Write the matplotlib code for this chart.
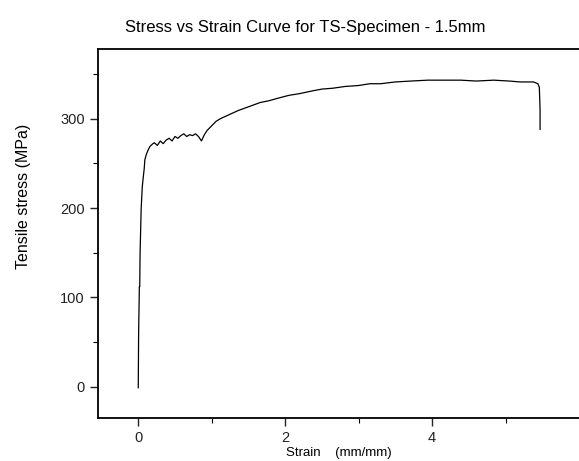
import matplotlib
matplotlib.use("Agg")
import matplotlib.pyplot as plt
from matplotlib.ticker import FixedLocator, MultipleLocator

# ---- data ----
strain = [0.000, 0.005, 0.015, 0.020, 0.025, 0.040, 0.055, 0.070, 0.080, 0.090,
          0.110, 0.135, 0.160, 0.200, 0.220, 0.260, 0.300, 0.340, 0.380, 0.420,
          0.460, 0.500, 0.540, 0.580, 0.620, 0.660, 0.700, 0.740, 0.780, 0.820,
          0.860, 0.900, 0.940, 1.000, 1.060, 1.120, 1.200, 1.280, 1.360, 1.460,
          1.560, 1.660, 1.780, 1.910, 2.050, 2.200, 2.370, 2.500, 2.650, 2.820,
          3.000, 3.150, 3.300, 3.500, 3.710, 3.940, 4.200, 4.390, 4.600, 4.840,
          5.050, 5.200, 5.380, 5.440, 5.460, 5.470, 5.470]
stress = [-1, 60, 112, 112, 150, 200, 224, 236, 243, 254,
          260, 265, 269, 272, 273, 270, 275, 272, 276, 278,
          275, 280, 278, 281, 283, 280, 282, 281, 283, 280,
          275, 282, 287, 292, 297, 300, 303, 306, 309, 312,
          315, 318, 320, 323, 326, 328, 331, 333, 334, 336,
          337, 339, 339, 341, 342, 343, 343, 343, 342, 343,
          342, 341, 341, 339, 335, 310, 288]

x_ticks = [0, 2, 4]
x_minor = [1, 3, 5]
title = "Stress vs Strain Curve for TS-Specimen - 1.5mm"
x_label = "Strain    (mm/mm)"
y_label = "Tensile stress (MPa)"

plt.rcParams["font.family"] = ["Liberation Sans", "DejaVu Sans"]

fig = plt.figure(figsize=(5.79, 4.61), dpi=100)
ax = fig.add_axes([0.169, 0.093, 0.831, 0.801])

ax.plot(strain, stress, color="black", lw=0.9)

ax.set_xlim(-0.55, 6.0)
ax.set_ylim(-35, 378)

ax.xaxis.set_major_locator(FixedLocator(x_ticks))
ax.xaxis.set_minor_locator(FixedLocator(x_minor))
ax.yaxis.set_major_locator(MultipleLocator(100))
ax.yaxis.set_minor_locator(MultipleLocator(50))

ax.spines["right"].set_visible(False)
for s in ("left", "bottom", "top"):
    ax.spines[s].set_linewidth(1.3)

ax.tick_params(which="major", direction="out", length=6, width=1.0,
               labelsize=10.5, colors="#222222")
ax.tick_params(which="minor", direction="out", length=3.5, width=0.8)

ax.set_xlabel(x_label, fontsize=9.5, labelpad=1)
ax.set_ylabel(y_label, fontsize=11.5, labelpad=21)
ax.yaxis.label.set_y(0.6)  # label sits above the axis middle in the original

fig.text(0.527, 0.94, title, ha="center", va="center", fontsize=12)

fig.savefig("out.png", dpi=100)
